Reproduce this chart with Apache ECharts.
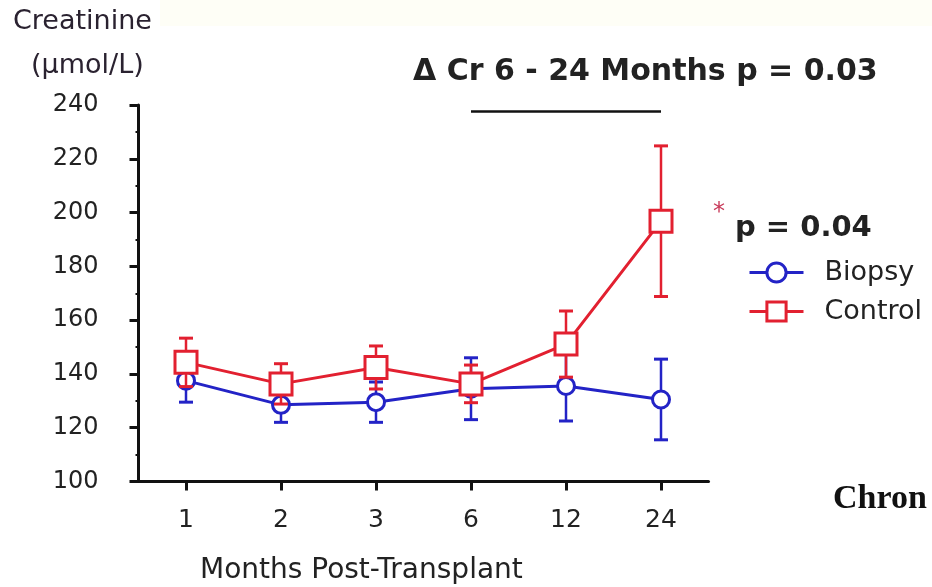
<!DOCTYPE html>
<html>
<head>
<meta charset="utf-8">
<script src="https://cdn.jsdelivr.net/npm/echarts@6/dist/echarts.min.js"></script>
<style>html,body{margin:0;padding:0;background:#fff}#c{width:932px;height:587px}</style>
</head>
<body>
<div id="c"></div>
<script>
// ---- data ----
const months = ['1', '2', '3', '6', '12', '24'];
const biopsyMean = [137.5, 128.5, 129.5, 134.5, 135.5, 130.5];
const biopsyErr  = [8, 6.5, 7.5, 11.5, 13, 15];
const controlMean = [144.3, 136.3, 142.4, 136.3, 151.1, 196.8];
const controlErr  = [9, 7.5, 8, 7, 12.3, 28];
const yTicks = [100, 120, 140, 160, 180, 200, 220, 240];
const bracketFrom = '6', bracketTo = '24', bracketLevel = 237.7;

const BLUE = '#2323c6', RED = '#e22030';
const FONT = 'DejaVu Sans';

function errSeries(name, means, errs, color, z) {
  return {
    type: 'custom', name: name + ' SEM', z: z, silent: true,
    data: means.map((m, i) => [i, m - errs[i], m + errs[i]]),
    renderItem: function (params, api) {
      const i = api.value(0);
      const lo = api.coord([i, api.value(1)]);
      const hi = api.coord([i, api.value(2)]);
      const h = 7;
      return {
        type: 'group', children: [
          { type: 'line', shape: { x1: lo[0], y1: lo[1], x2: hi[0], y2: hi[1] }, style: { stroke: color, lineWidth: 2.5 } },
          { type: 'line', shape: { x1: lo[0] - h, y1: lo[1], x2: lo[0] + h, y2: lo[1] }, style: { stroke: color, lineWidth: 3 } },
          { type: 'line', shape: { x1: hi[0] - h, y1: hi[1], x2: hi[0] + h, y2: hi[1] }, style: { stroke: color, lineWidth: 3 } }
        ]
      };
    }
  };
}

const chart = echarts.init(document.getElementById('c'));
chart.setOption({
  animation: false,
  backgroundColor: '#fff',
  grid: { left: 138.5, right: 223.5, top: 105, bottom: 105.5, containLabel: false },
  legend: {
    data: ['Biopsy', 'Control'],
    orient: 'vertical', left: 743, top: 254,
    itemWidth: 54, itemHeight: 24, itemGap: 12,
    lineStyle: { width: 3 },
    itemStyle: { borderWidth: 3 },
    textStyle: { fontFamily: FONT, fontSize: 27, color: '#222', padding: [0, 0, 0, 16] },
    selectedMode: false
  },
  xAxis: {
    type: 'category', data: months, boundaryGap: true,
    axisLine: { show: true, lineStyle: { color: '#111', width: 3 } },
    axisTick: { show: true, alignWithLabel: true, length: 9, lineStyle: { color: '#111', width: 3 } },
    axisLabel: { fontFamily: FONT, fontSize: 25, color: '#222', margin: 26 },
    splitLine: { show: false }
  },
  yAxis: {
    type: 'value', min: yTicks[0], max: yTicks[yTicks.length - 1], interval: 20,
    axisLine: { show: true, lineStyle: { color: '#111', width: 3 } },
    axisTick: { show: true, length: 9, lineStyle: { color: '#111', width: 3 } },
    minorTick: { show: true, splitNumber: 2, length: 3, lineStyle: { color: '#111', width: 2 } },
    axisLabel: { fontFamily: FONT, fontSize: 24, color: '#222', margin: 40 },
    splitLine: { show: false }
  },
  series: [
    errSeries('Biopsy', biopsyMean, biopsyErr, BLUE, 1),
    {
      type: 'line', name: 'Biopsy', data: biopsyMean, z: 2,
      symbol: 'circle', symbolSize: 17,
      lineStyle: { color: BLUE, width: 3 },
      itemStyle: { color: '#fff', borderColor: BLUE, borderWidth: 3 }
    },
    errSeries('Control', controlMean, controlErr, RED, 3),
    {
      type: 'line', name: 'Control', data: controlMean, z: 4,
      symbol: 'rect', symbolSize: 22,
      lineStyle: { color: RED, width: 3 },
      itemStyle: { color: '#fff', borderColor: RED, borderWidth: 3 },
      markLine: {
        silent: true, symbol: 'none', label: { show: false },
        lineStyle: { color: '#111', width: 2.5, type: 'solid' },
        data: [[{ coord: [bracketFrom, bracketLevel] }, { coord: [bracketTo, bracketLevel] }]]
      }
    }
  ],
  graphic: [
    { type: 'rect', shape: { x: 160, y: 0, width: 772, height: 26 }, style: { fill: '#fefef6' }, z: -10 },
    { type: 'text', left: 13, top: 8, style: { text: 'Creatinine', fontFamily: FONT, fontSize: 27, fill: '#2a2230' } },
    { type: 'text', left: 31, top: 52, style: { text: '(μmol/L)', fontFamily: FONT, fontSize: 27, fill: '#2a2230' } },
    { type: 'text', left: 413, top: 57, style: { text: 'Δ Cr 6 - 24 Months p = 0.03', fontFamily: FONT, fontWeight: 'bold', fontSize: 30, fill: '#222' } },
    { type: 'text', left: 713, top: 201, style: { text: '*', fontFamily: FONT, fontSize: 24, fill: '#c83a5a' } },
    { type: 'text', left: 735, top: 214, style: { text: 'p = 0.04', fontFamily: FONT, fontWeight: 'bold', fontSize: 29, fill: '#222' } },
    { type: 'text', left: 200, top: 557, style: { text: 'Months Post-Transplant', fontFamily: FONT, fontSize: 28, fill: '#222' } },
    { type: 'text', left: 833, top: 482, style: { text: 'Chron', fontFamily: 'Liberation Serif', fontWeight: 'bold', fontSize: 34, fill: '#111' } }
  ]
});
</script>
</body>
</html>
